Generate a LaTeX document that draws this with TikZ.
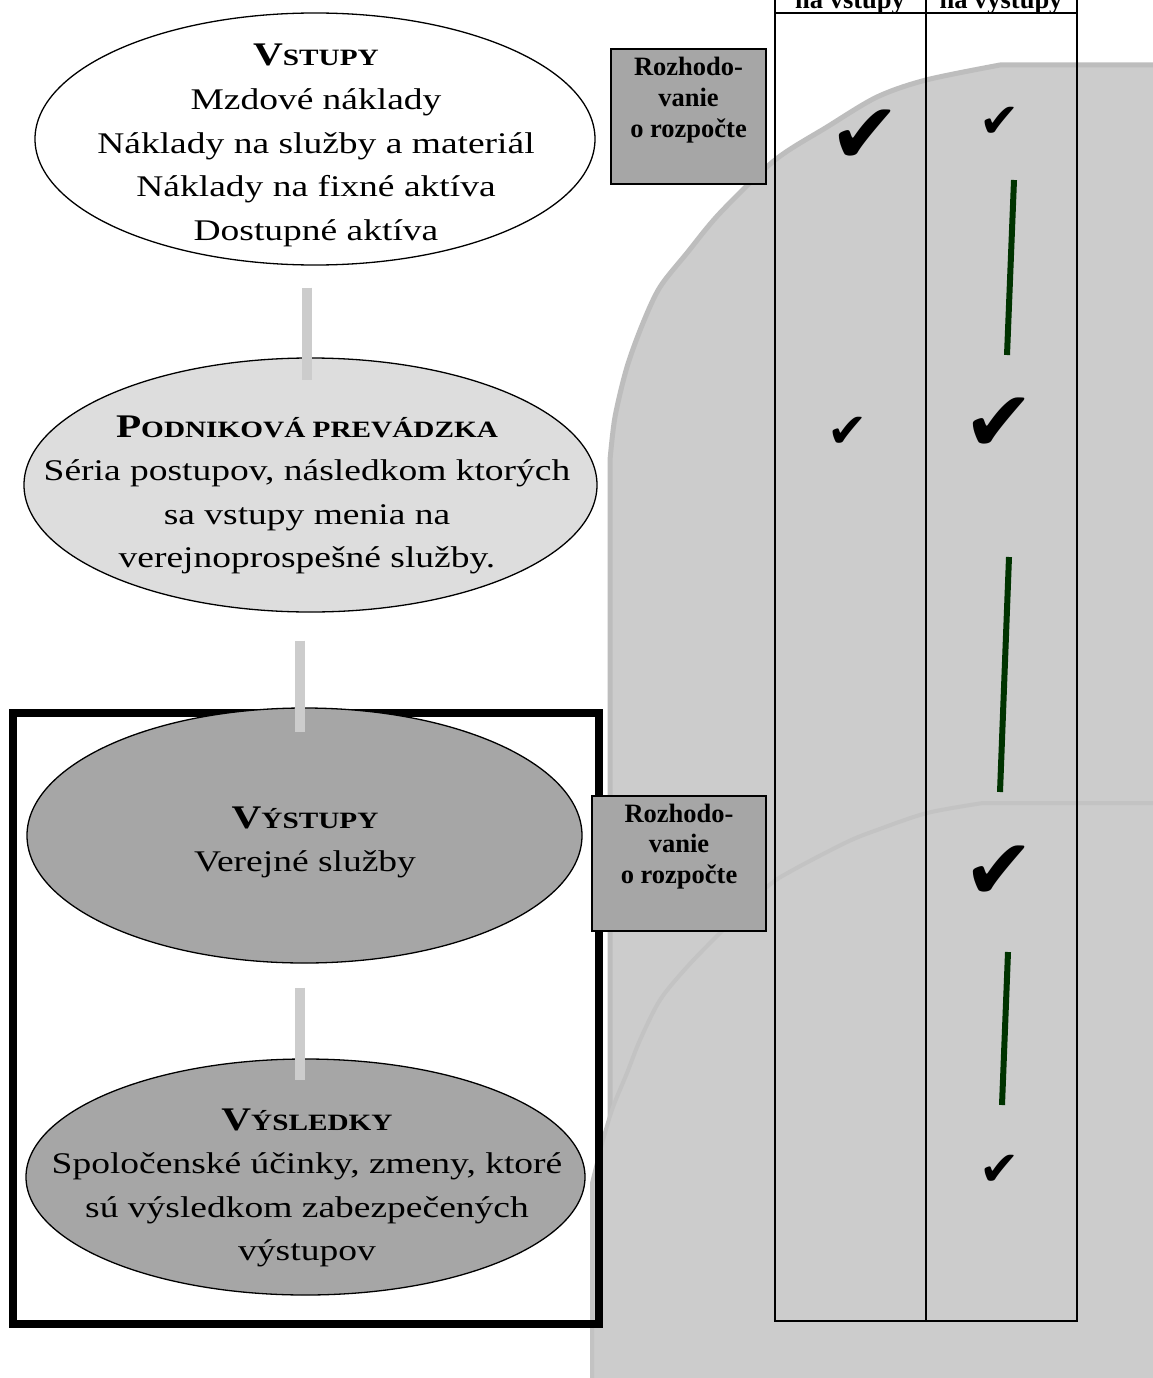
\documentclass[tikz,border=0pt]{standalone}
\usepackage{fontspec}
\setmainfont{Liberation Serif}
\newfontfamily\widefont[FakeStretch=1.25]{Liberation Serif}
\newfontfamily\symfont{DejaVu Sans}
\usetikzlibrary{shapes.geometric}
\definecolor{bggrey}{HTML}{CCCCCC}
\definecolor{bgedge}{HTML}{BDBDBD}
\definecolor{bgedgeb}{HTML}{C3C3C3}
\definecolor{boxgrey}{HTML}{A6A6A6}
\definecolor{lightell}{HTML}{DDDDDD}
\definecolor{darkgreen}{HTML}{003300}
\newcommand\bodyfnt{\widefont\fontsize{30}{43.6}\selectfont}
\newcommand\scfnt{\fontsize{23.4}{43.6}\selectfont}
\newcommand\headline[2]{{\bfseries\fontsize{33}{43.6}\selectfont #1{\scfnt #2}}}
\newcommand\boxfnt{\fontsize{26.5}{30.7}\selectfont\bfseries}
\tikzset{
  ell/.style={ellipse, draw=black, line width=1.3pt, inner sep=0pt},
  elltext/.style={anchor=base, inner sep=0pt, font=\bodyfnt},
  conn/.style={draw=bggrey, line width=10pt},
  rozbox/.style={draw=black, fill=boxgrey, line width=1.6pt, inner sep=0pt},
  boxtext/.style={anchor=base, inner sep=0pt, font=\boxfnt},
  hdrtext/.style={anchor=base, inner sep=0pt, font=\boxfnt},
  tabline/.style={draw=black, line width=2pt},
  gline/.style={draw=darkgreen, line width=6pt},
  bigcheck/.style={inner sep=0pt, font=\symfont\fontsize{85}{85}\selectfont},
  smallcheck/.style={inner sep=0pt, font=\symfont\fontsize{48}{48}\selectfont},
}
\begin{document}
\begin{tikzpicture}[x=1pt, y=-1pt]
\useasboundingbox (0,0) rectangle (1152,1378);
\fill[white] (0,0) rectangle (1152,1378);

% grey background shapes
\filldraw[fill=bggrey, draw=bgedge, line width=5pt]
  (1165,65) -- plot[smooth, tension=0.5] coordinates {(1000,65) (926,80) (877,97) (827,127) (775,160) (720,213) (687,253) (660,287) (643,323) (627,367) (615,417) (610,460)}
  -- (610,1395) -- (1165,1395) -- cycle;
\filldraw[fill=bggrey, draw=bgedgeb, line width=4pt]
  (1165,803) -- plot[smooth, tension=0.5] coordinates {(983,803) (927,813) (877,830) (847,842) (793,870) (767,887) (720,933) (687,967) (660,1000) (640,1040) (627,1073) (613,1107) (603,1140) (592,1183)}
  -- (592,1395) -- (1165,1395) -- cycle;

% table
\draw[tabline] (775,-5) -- (775,1321) -- (1077,1321) -- (1077,-5);
\draw[tabline] (926,-5) -- (926,1321);
\draw[tabline] (775,13) -- (1077,13);
\node[hdrtext] (hin) at (850,8.3) {na vstupy};
\node[hdrtext] (hout) at (1001,8.3) {na výstupy};

% checks and lines
\node[bigcheck] (c1) at (865,137) {✔};
\node[smallcheck] (c2) at (1000,122) {✔};
\node[smallcheck] (c3) at (848,432) {✔};
\node[bigcheck] (c4) at (999,425) {✔};
\node[bigcheck] (c5) at (999,873) {✔};
\node[smallcheck] (c6) at (1000,1170) {✔};
\coordinate (g1a) at (1014,180); \coordinate (g1b) at (1007,355);
\coordinate (g2a) at (1009,557); \coordinate (g2b) at (1000,792);
\coordinate (g3a) at (1008,952); \coordinate (g3b) at (1002,1105);
\draw[gline] (g1a) -- (g1b);
\draw[gline] (g2a) -- (g2b);
\draw[gline] (g3a) -- (g3b);

% frame
\draw[black, line width=8pt] (13,713) rectangle (599,1324);

% ellipses
\node[ell, fill=white, minimum width=560pt, minimum height=252pt] (vstupy) at (315,139) {};
\node[ell, fill=lightell, minimum width=573pt, minimum height=254pt] (prev) at (310.5,485) {};
\node[ell, fill=boxgrey, minimum width=555pt, minimum height=255pt] (vystupy) at (304.5,835.5) {};
\node[ell, fill=boxgrey, minimum width=559pt, minimum height=236pt] (vysledky) at (305.5,1177) {};

\node[elltext] (tvstupy) at (316,66) {\begin{tabular}[t]{@{}c@{}}\headline{V}{STUPY}\\ Mzdové náklady\\ Náklady na služby a materiál\\ Náklady na fixné aktíva\\ Dostupné aktíva\end{tabular}};
\node[elltext] (tprev) at (307,437) {\begin{tabular}[t]{@{}c@{}}\headline{P}{ODNIKOVÁ PREVÁDZKA}\\ Séria postupov, následkom ktorých\\ sa vstupy menia na\\ verejnoprospešné služby.\end{tabular}};
\node[elltext] (tvystupy) at (305,828) {\begin{tabular}[t]{@{}c@{}}\headline{V}{ÝSTUPY}\\ Verejné služby\end{tabular}};
\node[elltext] (tvysledky) at (307,1130) {\begin{tabular}[t]{@{}c@{}}\headline{V}{ÝSLEDKY}\\ Spoločenské účinky, zmeny, ktoré\\ sú výsledkom zabezpečených\\ výstupov\end{tabular}};

% connectors
\draw[conn] ([xshift=-8pt,yshift=-22pt]vstupy.south) -- ([xshift=-3.5pt,yshift=-23pt]prev.north);
\draw[conn] ([xshift=-10.5pt,yshift=-28pt]prev.south) -- ([xshift=-4.5pt,yshift=-25pt]vystupy.north);
\draw[conn] ([xshift=-4.5pt,yshift=-24pt]vystupy.south) -- ([xshift=-5.5pt,yshift=-22pt]vysledky.north);

% decision boxes
\node[rozbox, minimum width=155pt, minimum height=135pt] (rozh1) at (688.5,116.5) {};
\node[boxtext] (trozh1) at (688.5,76) {\begin{tabular}[t]{@{}c@{}}Rozhodo-\\ vanie\\ o rozpočte\end{tabular}};
\node[rozbox, minimum width=174pt, minimum height=135pt] (rozh2) at (679,863.5) {};
\node[boxtext] (trozh2) at (679,822) {\begin{tabular}[t]{@{}c@{}}Rozhodo-\\ vanie\\ o rozpočte\end{tabular}};
\end{tikzpicture}
\end{document}
